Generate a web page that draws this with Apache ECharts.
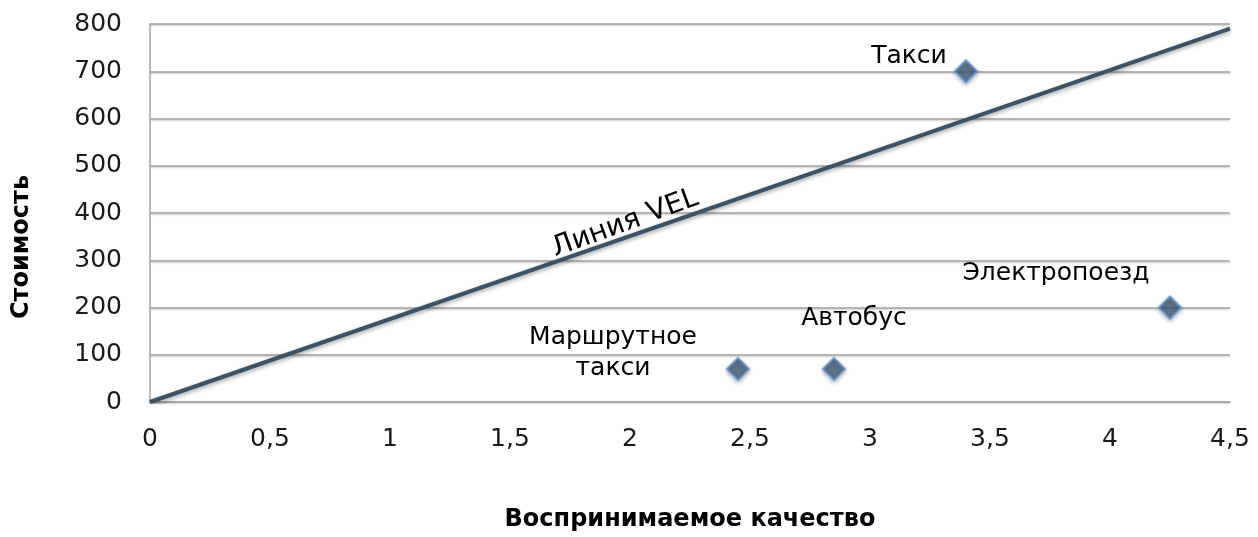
<!DOCTYPE html>
<html>
<head>
<meta charset="utf-8">
<script src="https://cdn.jsdelivr.net/npm/echarts@6/dist/echarts.min.js"></script>
<style>
  html, body { margin: 0; padding: 0; background: #fff; }
  #chart { width: 1258px; height: 537px; }
</style>
</head>
<body>
<div id="chart"></div>
<script>
// Transport modes: perceived quality vs. cost
const modeNames = ['Такси', 'Маршрутное\nтакси', 'Автобус', 'Электропоезд'];
const modeQuality = [3.4, 2.45, 2.85, 4.25];
const modeCost = [700, 70, 70, 200];

// VEL line end points
const velX = [0, 4.5];
const velY = [0, 790];
const velLabel = 'Линия VEL';
const velLabelAt = [1.98, 378];

const xTicks = [0, 0.5, 1, 1.5, 2, 2.5, 3, 3.5, 4, 4.5];
const yTicks = [0, 100, 200, 300, 400, 500, 600, 700, 800];

const FONT = 'DejaVu Sans';

// label offsets (px) from each marker centre
const labelOffsets = [[-57, -15], [-125, -16], [20, -50], [-114, -34]];

const chart = echarts.init(document.getElementById('chart'), null, { renderer: 'canvas' });

const gridColor = '#a2a2a2';

const scatterData = modeNames.map((n, i) => ({
  name: n,
  value: [modeQuality[i], modeCost[i]],
  label: { offset: labelOffsets[i] }
}));

chart.setOption({
  animation: false,
  backgroundColor: '#ffffff',
  grid: { left: 150, right: 28, top: 24, bottom: 120 },
  xAxis: {
    type: 'value',
    min: xTicks[0],
    max: xTicks[xTicks.length - 1],
    interval: 0.5,
    name: 'Воспринимаемое качество',
    nameLocation: 'middle',
    nameGap: 106,
    nameTextStyle: { fontFamily: FONT, fontSize: 24, fontWeight: 'bold', color: '#000' },
    axisLine: { show: true, lineStyle: { color: gridColor, width: 1.5 } },
    axisTick: { show: false },
    splitLine: { show: false },
    axisLabel: {
      fontFamily: FONT, fontSize: 25, color: '#1a1a1a', margin: 25,
      formatter: v => String(v).replace('.', ',')
    }
  },
  yAxis: {
    type: 'value',
    min: yTicks[0],
    max: yTicks[yTicks.length - 1],
    interval: 100,
    axisLine: { show: true, lineStyle: { color: gridColor, width: 1.5 } },
    axisTick: { show: false },
    splitLine: { show: true, lineStyle: { color: gridColor, width: 1.5, shadowColor: 'rgba(0,0,0,0.25)', shadowBlur: 2, shadowOffsetY: 1 } },
    axisLabel: { fontFamily: FONT, fontSize: 25, color: '#1a1a1a', margin: 28 }
  },
  graphic: [{
    type: 'text',
    x: 22,
    y: 247,
    rotation: Math.PI / 2,
    style: {
      text: 'Стоимость',
      font: 'bold 24px "DejaVu Sans"',
      fill: '#000',
      align: 'center',
      verticalAlign: 'middle'
    }
  }],
  series: [
    {
      type: 'line',
      data: velX.map((x, i) => [x, velY[i]]),
      symbol: 'none',
      lineStyle: {
        color: '#3b5366', width: 4,
        shadowColor: 'rgba(0,0,0,0.35)', shadowBlur: 4, shadowOffsetY: 2
      },
      z: 3,
      markPoint: {
        symbol: 'circle',
        symbolSize: 0,
        data: [{ coord: velLabelAt, value: velLabel }],
        label: {
          show: true,
          position: 'inside',
          formatter: velLabel,
          rotate: 20,
          fontFamily: FONT,
          fontSize: 28,
          color: '#000',
          textBorderWidth: 0,
          textBorderColor: 'transparent'
        }
      }
    },
    {
      type: 'scatter',
      data: scatterData,
      symbol: 'diamond',
      symbolSize: 22,
      itemStyle: {
        color: '#4a6079',
        borderColor: '#5795dc',
        borderWidth: 2,
        shadowColor: 'rgba(0,0,0,0.35)', shadowBlur: 4, shadowOffsetY: 2
      },
      z: 4,
      label: {
        show: true,
        position: 'inside',
        formatter: p => p.name,
        fontFamily: FONT,
        fontSize: 25,
        lineHeight: 31,
        align: 'center',
        color: '#000',
        opacity: 1,
        textBorderWidth: 0,
        textBorderColor: 'transparent'
      }
    }
  ]
});
</script>
</body>
</html>
